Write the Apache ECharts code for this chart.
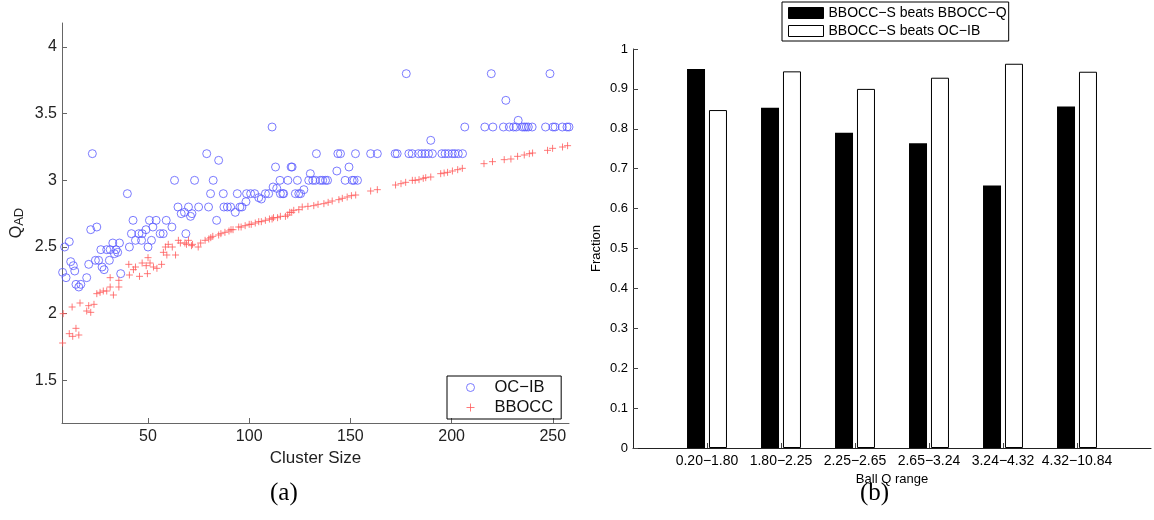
<!DOCTYPE html>
<html>
<head>
<meta charset="utf-8">
<script src="https://cdn.jsdelivr.net/npm/echarts@6/dist/echarts.min.js"></script>
<style>
  html, body { margin: 0; padding: 0; background: #fff; }
  #chart { width: 1154px; height: 520px; }
</style>
</head>
<body>
<div id="chart"></div>
<script>
  // (a) Q_AD vs cluster size
  const ocibPoints = [
    [7.8,2.31],[8.8,2.5],[9.5,2.27],[11.1,2.54],[11.8,2.39],[13.1,2.36],[13.8,2.32],[14.4,2.22],
    [15.8,2.2],[16.8,2.22],[19.7,2.27],[20.7,2.37],[21.7,2.63],[22.5,3.2],[24,2.4],[24.7,2.65],
    [25.6,2.4],[26.7,2.48],[27.3,2.35],[28.3,2.33],[29.6,2.48],[30.9,2.4],[31.3,2.48],[32.6,2.53],
    [33.4,2.45],[34.2,2.48],[35,2.46],[35.9,2.53],[36.5,2.3],[39.8,2.9],[40.8,2.5],[41.8,2.6],
    [42.6,2.7],[43.8,2.55],[45.5,2.6],[46.8,2.55],[47.1,2.6],[49,2.63],[50,2.5],[50.7,2.7],
    [51.7,2.55],[52.4,2.65],[54,2.7],[56,2.6],[57.5,2.6],[59,2.7],[61.8,2.65],[63.1,3.0],
    [64.8,2.8],[66.4,2.75],[68,2.76],[68.7,2.6],[70,2.8],[71,2.73],[71.7,2.75],[73,3.0],
    [75,2.8],[79,3.2],[79.9,2.8],[80.9,2.9],[82.2,3.0],[83.9,2.7],[84.9,3.15],[87.2,2.9],
    [87.5,2.8],[89.2,2.8],[90.8,2.8],[93.1,2.76],[94.1,2.9],[95.4,2.8],[96.4,2.8],[98.4,2.84],
    [98.7,2.9],[100.7,2.9],[102.7,2.9],[104.7,2.87],[106,2.86],[108,2.9],[109.6,2.9],[111.3,3.4],
    [111.8,2.95],[113,3.1],[113.6,2.94],[115.2,3.0],[115.4,2.9],[116.6,2.9],[117,2.9],[119.1,3.0],
    [120.7,3.1],[121.2,3.1],[122.8,2.9],[123.8,3.0],[124.5,2.9],[125.4,2.9],[127,2.93],[129.4,3.0],
    [130.2,3.05],[131.4,3.0],[132.7,3.0],[133.2,3.2],[135.1,3.0],[136.3,3.0],[137.7,3.0],[138.7,3.0],
    [143.3,3.07],[143.8,3.2],[145.1,3.2],[147.4,3.0],[149.3,3.1],[150.9,3.0],[151.8,3.0],[152.5,3.2],
    [153.5,3.0],[160,3.2],[163.3,3.2],[172.1,3.2],[173.1,3.2],[177.6,3.8],[178.9,3.2],[180.5,3.2],
    [183.6,3.2],[185.3,3.2],[186.9,3.2],[188.6,3.2],[189.7,3.3],[190.5,3.2],[195.2,3.2],[196.8,3.2],
    [198.4,3.2],[200.3,3.2],[201.6,3.2],[203.3,3.2],[205.4,3.2],[206.5,3.4],[216.4,3.4],[219.6,3.8],
    [220.4,3.4],[225.6,3.4],[226.8,3.6],[228.5,3.4],[230.6,3.4],[231.9,3.4],[232.9,3.45],[234.9,3.4],
    [235.9,3.4],[236.9,3.4],[237.9,3.4],[239.8,3.4],[246.4,3.4],[248.6,3.8],[250.1,3.4],[251.1,3.4],
    [254.7,3.4],[257,3.4],[258,3.4]
  ];
  const bboccPoints = [
    [7.8,1.78],[8.1,2.0],[11.1,1.85],[12.5,2.05],[12.8,1.83],[14.4,1.89],[15.8,1.84],[16.4,2.08],
    [19.7,2.02],[20.7,2.06],[21.7,2.01],[23.3,2.07],[24.7,2.15],[26.3,2.16],[27.9,2.17],[29.6,2.17],
    [31.3,2.2],[31.3,2.27],[32.9,2.14],[35.6,2.2],[35.6,2.25],[40.5,2.37],[40.8,2.29],[42.8,2.33],
    [43.8,2.35],[45.8,2.28],[47.1,2.38],[49.1,2.36],[49.7,2.3],[50,2.42],[51,2.38],[52.7,2.35],
    [54.4,2.34],[56.7,2.37],[57.6,2.46],[58.6,2.5],[59.3,2.44],[60,2.52],[62,2.5],[63.6,2.44],
    [65,2.55],[66,2.53],[68.2,2.53],[69,2.52],[70,2.55],[71.5,2.51],[72,2.52],[74.8,2.5],
    [76,2.53],[78.2,2.55],[80,2.56],[81,2.57],[82,2.58],[84.9,2.59],[86,2.6],[88,2.61],
    [90,2.62],[91,2.63],[92,2.63],[94.8,2.65],[96,2.65],[98,2.66],[100,2.67],[101,2.67],
    [103,2.68],[104.7,2.69],[106,2.69],[108,2.7],[110,2.71],[111.3,2.71],[112,2.72],[114,2.72],
    [115.4,2.73],[117.9,2.73],[119,2.74],[120,2.76],[121,2.76],[122,2.775],[124.5,2.78],[126.2,2.8],
    [129,2.805],[131.9,2.81],[134,2.82],[136.9,2.825],[139,2.835],[141,2.845],[144.3,2.855],[146,2.865],
    [148.4,2.875],[150.5,2.885],[152.6,2.89],[160,2.92],[163.3,2.93],[172.3,2.965],[175,2.975],[177.3,2.985],
    [180.6,3.0],[182,3.0],[183.9,3.005],[186,3.015],[187.2,3.02],[189.7,3.025],[194.6,3.05],[196.3,3.055],
    [198,3.06],[200.4,3.07],[203,3.08],[205.3,3.09],[216,3.125],[220.2,3.14],[226,3.155],[229.3,3.16],
    [232.6,3.18],[235.9,3.19],[238.4,3.2],[240,3.205],[247.4,3.225],[249.9,3.24],[254.8,3.25],[257.3,3.26]
  ];

  // (b) fraction of wins per ball Q range
  const categories = ['0.20\u22121.80', '1.80\u22122.25', '2.25\u22122.65', '2.65\u22123.24', '3.24\u22124.32', '4.32\u221210.84'];
  const beatsBboccQ = [0.95, 0.853, 0.79, 0.764, 0.658, 0.856];
  const beatsOcib = [0.847, 0.944, 0.9, 0.928, 0.963, 0.943];

  const FONT = 'Liberation Sans';
  const MINUS = '\u2212';
  const plusSymbol = 'path://M5,0V10M0,5H10';

  // padded so the bars sit at 1..6 on a 0..7 axis
  const barAxisData = [''].concat(categories, ['']);
  const pad = arr => ['-'].concat(arr, ['-']);

  const chart = echarts.init(document.getElementById('chart'), null, {renderer: 'canvas'});

  chart.setOption({
    animation: false,
    textStyle: {fontFamily: FONT},
    grid: [
      {left: 62, top: 23, width: 507, height: 400},
      {left: 633, top: 49, width: 525, height: 399}
    ],
    legend: [
      {
        left: 447, top: 376, orient: 'vertical',
        padding: [3, 8, 3, 19], itemGap: 3,
        borderColor: '#000', borderWidth: 1,
        itemWidth: 38, itemHeight: 8,
        textStyle: {fontSize: 16.5, color: '#111', fontFamily: FONT},
        data: [
          {name: 'OC' + MINUS + 'IB', icon: 'circle',
            itemStyle: {color: 'transparent', borderColor: '#5a5aff', borderWidth: 1}},
          {name: 'BBOCC', icon: plusSymbol,
            itemStyle: {color: 'transparent', borderColor: '#ff5a5a', borderWidth: 1}}
        ]
      },
      {
        left: 782, top: 2, orient: 'vertical',
        padding: [4, 2, 3, 6], itemGap: 4,
        borderColor: '#000', borderWidth: 1,
        itemWidth: 35, itemHeight: 11,
        textStyle: {fontSize: 14, color: '#000', fontFamily: FONT},
        data: [
          {name: 'BBOCC' + MINUS + 'S beats BBOCC' + MINUS + 'Q', icon: 'rect',
            itemStyle: {color: '#000', borderColor: '#000', borderWidth: 1}},
          {name: 'BBOCC' + MINUS + 'S beats OC' + MINUS + 'IB', icon: 'rect',
            itemStyle: {color: '#fff', borderColor: '#000', borderWidth: 1}}
        ]
      }
    ],
    xAxis: [
      {
        gridIndex: 0, type: 'value', min: 7.5, max: 258, splitNumber: 5,
        name: 'Cluster Size', nameLocation: 'middle', nameGap: 22,
        nameTextStyle: {fontSize: 17, color: '#222'},
        axisLine: {lineStyle: {color: '#666'}},
        axisTick: {inside: true, length: 5, lineStyle: {color: '#666'}},
        axisLabel: {fontSize: 16, color: '#222', margin: 6, showMinLabel: false, showMaxLabel: false},
        splitLine: {show: false}
      },
      {
        gridIndex: 1, type: 'category', data: barAxisData, boundaryGap: false,
        name: 'Ball Q range', nameLocation: 'middle', nameGap: 21,
        nameTextStyle: {fontSize: 13, color: '#000'},
        axisLine: {lineStyle: {color: '#222'}},
        axisTick: {inside: true, length: 5, interval: (i) => i > 0 && i < 7, lineStyle: {color: '#444'}},
        axisLabel: {fontSize: 14, color: '#000', margin: 6, interval: 0},
        splitLine: {show: false}
      }
    ],
    yAxis: [
      {
        gridIndex: 0, type: 'value', min: 1.18, max: 4.18, splitNumber: 6,
        name: 'Q{s|AD}', nameLocation: 'middle', nameGap: 36, nameRotate: 90,
        nameTextStyle: {
          fontSize: 16, color: '#222',
          rich: {s: {fontSize: 13, color: '#222', padding: [6, 0, 0, 0]}}
        },
        axisLine: {show: true, lineStyle: {color: '#666'}},
        axisTick: {show: true, inside: true, length: 5, lineStyle: {color: '#666'}},
        axisLabel: {fontSize: 16, color: '#222', margin: 5, showMinLabel: false, showMaxLabel: false},
        splitLine: {show: false}
      },
      {
        gridIndex: 1, type: 'value', min: 0, max: 1, interval: 0.1,
        name: 'Fraction', nameLocation: 'middle', nameGap: 30, nameRotate: 90,
        nameTextStyle: {fontSize: 13, color: '#000'},
        axisLine: {show: true, lineStyle: {color: '#222'}},
        axisTick: {show: true, inside: true, length: 5, lineStyle: {color: '#444'}},
        axisLabel: {fontSize: 13, color: '#000', margin: 5,
          formatter: v => String(Math.round(v * 10) / 10)},
        splitLine: {show: false}
      }
    ],
    series: [
      {
        name: 'OC' + MINUS + 'IB', type: 'scatter', xAxisIndex: 0, yAxisIndex: 0,
        data: ocibPoints, symbol: 'circle', symbolSize: 8,
        itemStyle: {color: 'transparent', borderColor: '#5a5aff', borderWidth: 1}
      },
      {
        name: 'BBOCC', type: 'scatter', xAxisIndex: 0, yAxisIndex: 0,
        data: bboccPoints, symbol: plusSymbol, symbolSize: 7,
        itemStyle: {color: 'transparent', borderColor: '#ff5a5a', borderWidth: 1}
      },
      {
        name: 'BBOCC' + MINUS + 'S beats BBOCC' + MINUS + 'Q', type: 'bar',
        xAxisIndex: 1, yAxisIndex: 1, data: pad(beatsBboccQ),
        barWidth: 18, barGap: '22%',
        itemStyle: {color: '#000', borderColor: '#000', borderWidth: 0}
      },
      {
        name: 'BBOCC' + MINUS + 'S beats OC' + MINUS + 'IB', type: 'bar',
        xAxisIndex: 1, yAxisIndex: 1, data: pad(beatsOcib),
        barWidth: 18, barGap: '22%',
        itemStyle: {color: '#fff', borderColor: '#000', borderWidth: 1}
      }
    ],
    graphic: [
      {type: 'text', left: 270, top: 481,
        style: {text: '(a)', fontSize: 25, fontFamily: 'Liberation Serif', fill: '#000'}},
      {type: 'text', left: 860, top: 481,
        style: {text: '(b)', fontSize: 25, fontFamily: 'Liberation Serif', fill: '#000'}}
    ]
  });
</script>
</body>
</html>
